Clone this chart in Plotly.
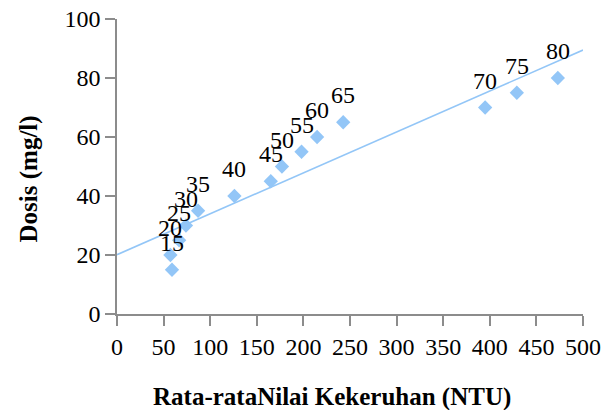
import numpy as np
import plotly.graph_objects as go

# Data
ntu = [59, 57.3, 66.7, 74, 87, 126, 165, 177, 198, 214.7, 242.7, 395, 429, 473]
dosis = [15, 20, 25, 30, 35, 40, 45, 50, 55, 60, 65, 70, 75, 80]
labels = ["15", "20", "25", "30", "35", "40", "45", "50", "55", "60", "65", "70", "75", "80"]
x_ticks = [0, 50, 100, 150, 200, 250, 300, 350, 400, 450, 500]
y_ticks = [0, 20, 40, 60, 80, 100]
x_title = "<b>Rata-rataNilai Kekeruhan (NTU)</b>"
y_title = "<b>Dosis (mg/l)</b>"

slope, intercept = np.polyfit(ntu, dosis, 1)
trend_x = [0, 500]
trend_y = [intercept + slope * v for v in trend_x]

COLOR = "#93C6F7"
FONT = "Liberation Serif"

fig = go.Figure()
fig.add_trace(go.Scatter(x=trend_x, y=trend_y, mode="lines",
                         line=dict(color=COLOR, width=1.6), hoverinfo="skip",
                         showlegend=False))
fig.add_trace(go.Scatter(x=ntu, y=dosis, mode="markers",
                         marker=dict(symbol="diamond", size=11, color=COLOR),
                         showlegend=False))

for xv, yv, t in zip(ntu, dosis, labels):
    fig.add_annotation(x=xv, y=yv, text=t, showarrow=False, yshift=27,
                       font=dict(family=FONT, size=24, color="black"))

axis_common = dict(showline=True, linecolor="#8C8C8C", linewidth=1.5,
                   ticks="outside", tickcolor="#8C8C8C", ticklen=10, tickwidth=1.5,
                   showgrid=False, zeroline=False, automargin=False,
                   ticklabeloverflow="allow",
                   tickfont=dict(family=FONT, size=24, color="black"))

fig.update_xaxes(range=[0, 500], tickvals=x_ticks, **axis_common)
fig.update_yaxes(range=[0, 100], tickvals=y_ticks, **axis_common)

fig.add_annotation(xref="paper", yref="paper", x=0.4617, y=0, yshift=-83,
                   xanchor="center", yanchor="middle", showarrow=False,
                   text=x_title, font=dict(family=FONT, size=25, color="black"))
fig.add_annotation(xref="paper", yref="paper", x=0, y=0.456, xshift=-88,
                   xanchor="center", yanchor="middle", showarrow=False, textangle=-90,
                   text=y_title, font=dict(family=FONT, size=25, color="black"))

# page body has an 8px default margin, so the figure is sized to fit the window
fig.update_layout(width=607, height=402, margin=dict(l=109, r=32, t=11, b=96),
                  plot_bgcolor="white", paper_bgcolor="white")
fig.write_html("out.html")
